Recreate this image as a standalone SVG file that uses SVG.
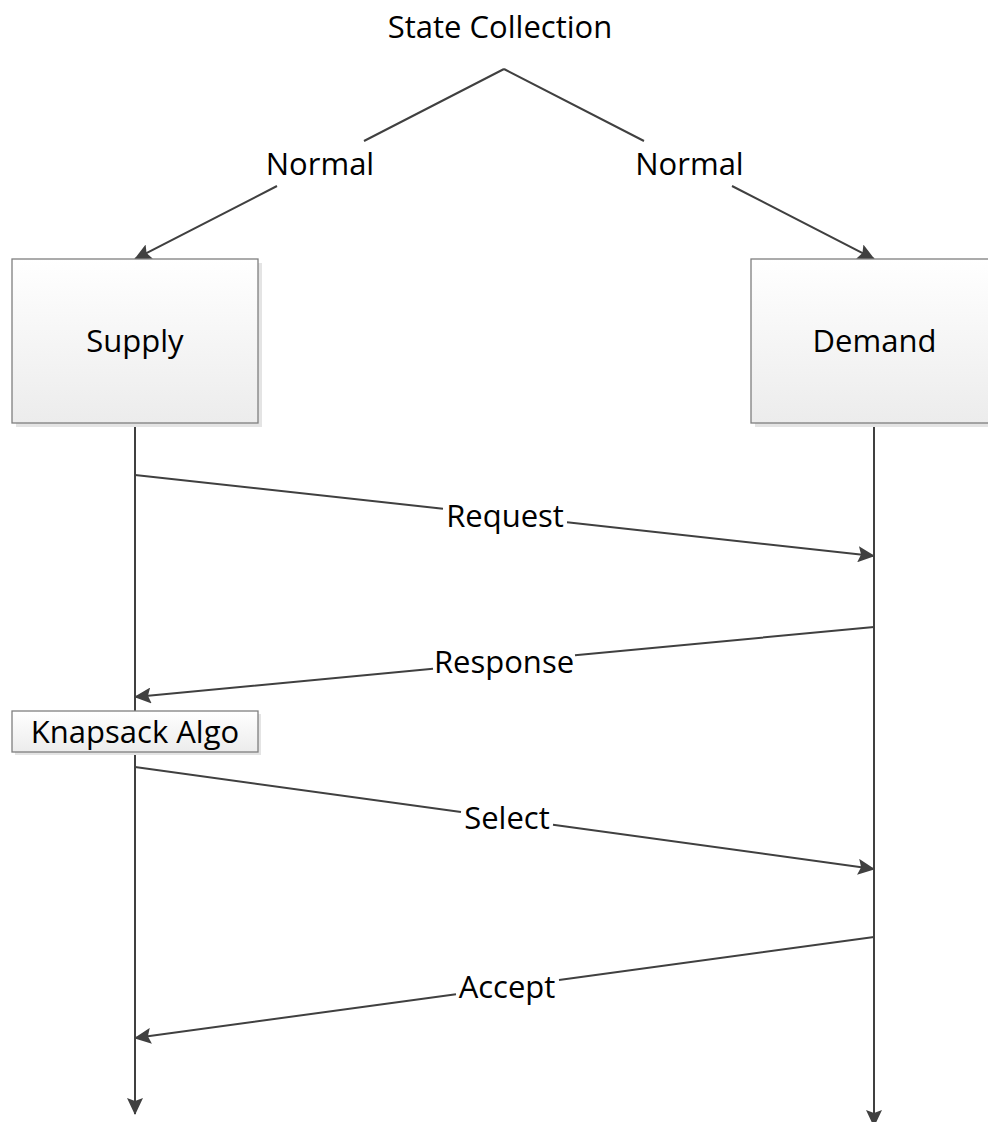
<svg xmlns="http://www.w3.org/2000/svg" width="988" height="1122" viewBox="0 0 988 1122">
  <style>
    text { font-family: "Open Sans", "Noto Sans", "Liberation Sans", sans-serif; font-size: 31px; fill: #000; text-anchor: middle; }
    .box { fill: url(#boxgrad); stroke: #7f7f7f; stroke-width: 1.3; }
    .shadow { fill: #e4e4e4; stroke: none; }
    .conn { fill: none; stroke: #404040; stroke-width: 2; }
  </style>
  <defs>
    <linearGradient id="boxgrad" x1="0" y1="0" x2="0" y2="1">
      <stop offset="0" stop-color="#ffffff"/>
      <stop offset="1" stop-color="#ececec"/>
    </linearGradient>
    <marker id="arrow" viewBox="0 0 17 16" refX="16" refY="8" markerWidth="17" markerHeight="16" markerUnits="userSpaceOnUse" orient="auto">
      <path d="M0,0 L17,8 L0,16 L3,8 z" fill="#404040"/>
    </marker>
  </defs>
  <rect width="988" height="1122" fill="#ffffff"/>

  <g id="connectors">
    <line id="lifeline-supply" class="conn" x1="135" y1="423" x2="135" y2="1114" marker-end="url(#arrow)"/>
    <line id="lifeline-demand" class="conn" x1="874" y1="423" x2="874" y2="1126" marker-end="url(#arrow)"/>
    <path id="to-supply" class="conn" d="M504,69 L364,141 M277,186 L135,259" marker-end="url(#arrow)"/>
    <path id="to-demand" class="conn" d="M504,69 L644,141 M732,186 L874,259" marker-end="url(#arrow)"/>
    <path id="request" class="conn" d="M135,475 L443,508.8 M567,522.3 L874,556" marker-end="url(#arrow)"/>
    <path id="response" class="conn" d="M874,627 L575,655.3 M433,668.8 L135,697" marker-end="url(#arrow)"/>
    <path id="select" class="conn" d="M135,767 L461,812 M553,824.7 L874,869" marker-end="url(#arrow)"/>
    <path id="accept" class="conn" d="M874,937 L559,980 M456,994.2 L135,1038" marker-end="url(#arrow)"/>
  </g>

  <g id="labels">
    <text id="label-state" x="500" y="38">State Collection</text>
    <text id="label-normal-left" x="320" y="175">Normal</text>
    <text id="label-normal-right" x="689.5" y="175">Normal</text>
    <text id="label-request" x="505" y="527">Request</text>
    <text id="label-response" x="504" y="673">Response</text>
    <text id="label-select" x="507" y="829">Select</text>
    <text id="label-accept" x="507" y="998">Accept</text>
  </g>

  <g id="node-supply">
    <rect class="shadow" x="16" y="263" width="246" height="164"/>
    <rect class="box" x="12" y="259" width="246" height="164"/>
    <text x="135" y="352">Supply</text>
  </g>

  <g id="node-demand">
    <rect class="shadow" x="755" y="263" width="246" height="164"/>
    <rect class="box" x="751" y="259" width="246" height="164"/>
    <text x="874.5" y="352">Demand</text>
  </g>

  <g id="node-knapsack">
    <rect class="shadow" x="15" y="714" width="246" height="41"/>
    <rect class="box" x="12" y="711" width="246" height="41"/>
    <text x="135" y="743">Knapsack Algo</text>
  </g>
</svg>
